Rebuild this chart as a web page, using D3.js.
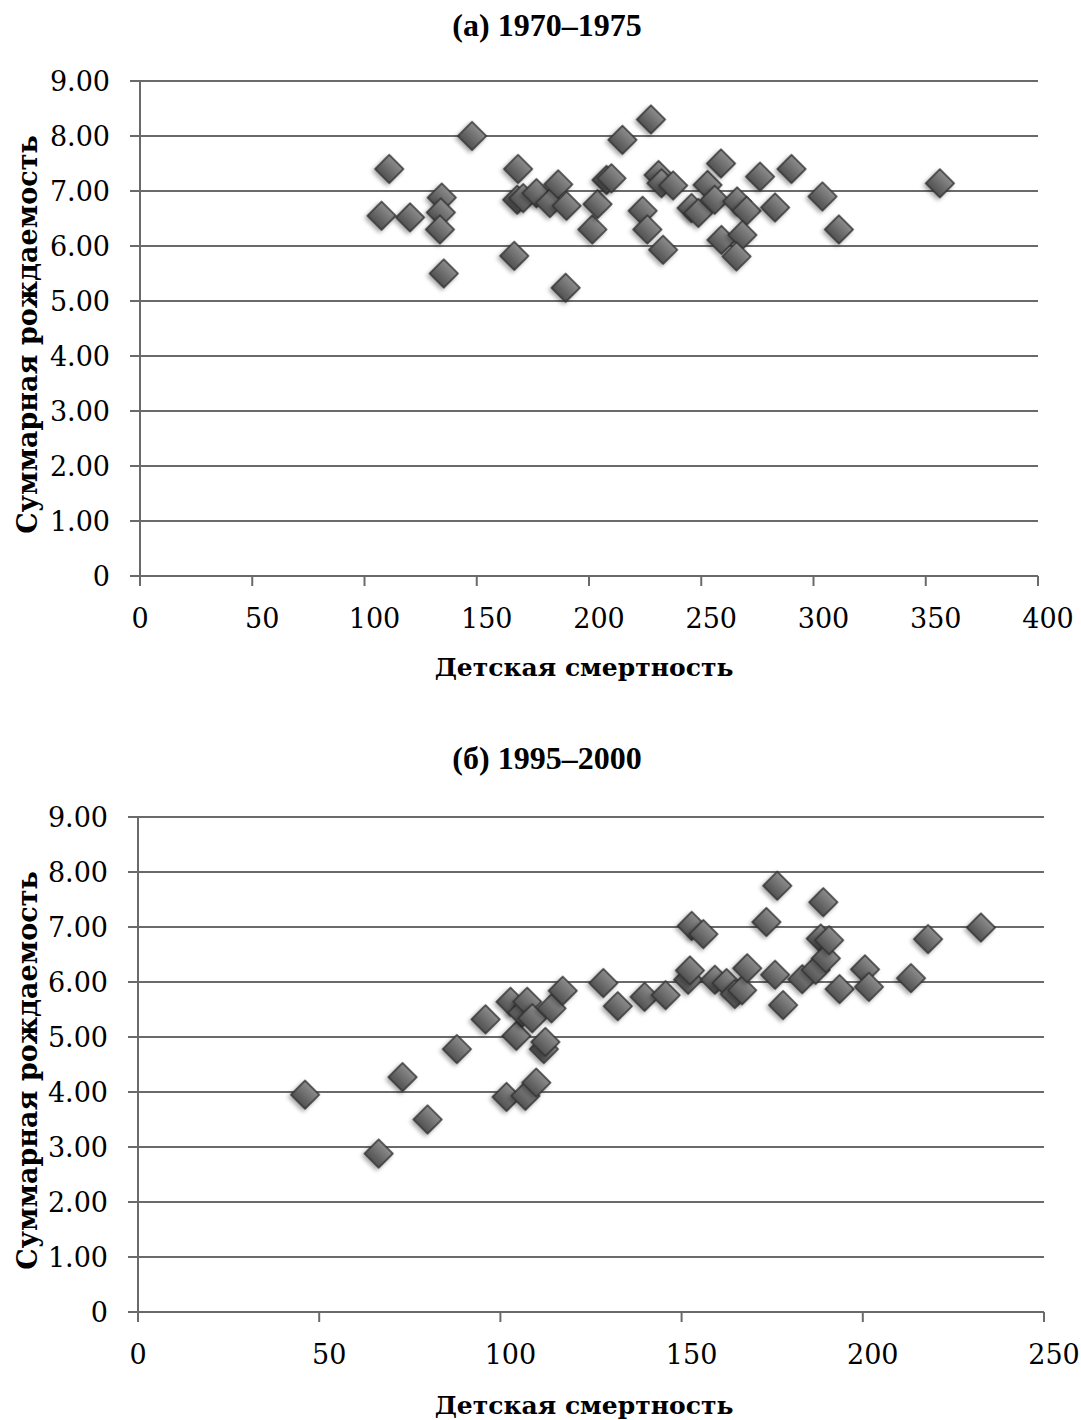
<!DOCTYPE html>
<html>
<head>
<meta charset="utf-8">
<script src="https://cdn.jsdelivr.net/npm/d3@7"></script>
<style>
  body { margin: 0; background: #fff; }
  svg { display: block; }
</style>
</head>
<body>
<svg id="chart" width="1081" height="1420"></svg>
<script>
// Panel (а) 1970–1975: infant mortality vs total fertility
const mortality1970 = [107.6, 111, 120.3, 134.4, 134, 133.6, 135.3, 147.9, 168.4, 166.7, 168, 170.7, 176.6, 182.6, 186.3, 190, 189.6, 201.5, 203.8, 207.8, 210, 214.9, 227.6, 223.9, 226, 231, 232.3, 233, 237.5, 245.7, 248.7, 252.8, 256, 258.8, 259, 266, 270.2, 268.3, 265.7, 276.2, 282.9, 290.2, 304, 311.3, 356.3];
const fertility1970 = [6.55, 7.40, 6.52, 6.88, 6.61, 6.30, 5.50, 8.00, 7.40, 5.82, 6.84, 6.87, 6.96, 6.78, 7.12, 6.73, 5.24, 6.30, 6.76, 7.20, 7.23, 7.93, 8.30, 6.64, 6.30, 7.29, 7.14, 5.93, 7.10, 6.69, 6.60, 7.11, 6.84, 7.50, 6.11, 6.81, 6.64, 6.20, 5.81, 7.26, 6.70, 7.40, 6.90, 6.30, 7.14];

// Panel (б) 1995–2000
const mortality1995 = [46.1, 66.4, 73.0, 79.9, 88.0, 95.9, 101.7, 102.8, 104.4, 106, 106.9, 107.4, 108.8, 109.9, 112, 112.4, 114.1, 117.2, 128.4, 132.4, 139.8, 145.6, 151.8, 152.3, 152.8, 156, 159.2, 162.4, 164.7, 166.7, 168.1, 173.4, 175.8, 176.4, 178, 183.3, 187, 188.4, 189.1, 189.8, 190.7, 193.6, 200.6, 201.7, 213.3, 218, 232.6];
const fertility1995 = [3.95, 2.88, 4.27, 3.50, 4.78, 5.32, 3.91, 5.64, 5.02, 5.44, 3.93, 5.64, 5.34, 4.17, 4.78, 4.91, 5.52, 5.84, 5.98, 5.56, 5.73, 5.76, 6.04, 6.21, 7.02, 6.87, 6.04, 5.98, 5.78, 5.85, 6.25, 7.09, 6.13, 7.75, 5.58, 6.05, 6.22, 6.79, 7.45, 6.43, 6.76, 5.87, 6.23, 5.91, 6.07, 6.78, 6.99];

const yTicks = [0, 1, 2, 3, 4, 5, 6, 7, 8, 9];
const xTicks1970 = [0, 50, 100, 150, 200, 250, 300, 350, 400];
const xTicks1995 = [0, 50, 100, 150, 200, 250];

const titles = ['(а) 1970–1975', '(б) 1995–2000'];
const xLabel = 'Детская смертность';
const yLabel = 'Суммарная рождаемость';

const svg = d3.select('#chart');
const defs = svg.append('defs');

const grad = defs.append('linearGradient')
  .attr('id', 'dia-fill')
  .attr('x1', '0%').attr('y1', '0%')
  .attr('x2', '0%').attr('y2', '100%');
grad.append('stop').attr('offset', '0%').attr('stop-color', '#8c8c8c');
grad.append('stop').attr('offset', '100%').attr('stop-color', '#515151');

const shadow = defs.append('filter')
  .attr('id', 'dia-shadow')
  .attr('x', '-50%').attr('y', '-50%')
  .attr('width', '200%').attr('height', '200%');
shadow.append('feDropShadow')
  .attr('dx', 0).attr('dy', 3)
  .attr('stdDeviation', 2)
  .attr('flood-color', '#000')
  .attr('flood-opacity', 0.35);

const gridColor = '#6a6a6a';
const tickFont = '"DejaVu Serif", serif';

function drawPanel(opts) {
  const { xs, ys, xTicks, xMax, left, right, top, bottom, title, titleY, xLabelY } = opts;

  const x = d3.scaleLinear().domain([0, xMax]).range([left, right]);
  const y = d3.scaleLinear().domain([0, 9]).range([bottom, top]);

  const g = svg.append('g');

  // title
  g.append('text')
    .attr('x', 547)
    .attr('y', titleY)
    .attr('text-anchor', 'middle')
    .attr('dominant-baseline', 'central')
    .style('font-family', '"Liberation Serif", "Times New Roman", serif')
    .style('font-weight', 'bold')
    .style('font-size', '32px')
    .text(title);

  // horizontal gridlines with left tick stubs
  g.append('g')
    .selectAll('line')
    .data(yTicks)
    .enter()
    .append('line')
    .attr('x1', left - 10)
    .attr('x2', right)
    .attr('y1', d => y(d))
    .attr('y2', d => y(d))
    .attr('stroke', gridColor)
    .attr('stroke-width', 2);

  // y axis line
  g.append('line')
    .attr('x1', left).attr('x2', left)
    .attr('y1', top).attr('y2', bottom + 10)
    .attr('stroke', gridColor)
    .attr('stroke-width', 2);

  // x ticks
  g.append('g')
    .selectAll('line')
    .data(xTicks)
    .enter()
    .append('line')
    .attr('x1', d => x(d)).attr('x2', d => x(d))
    .attr('y1', bottom).attr('y2', bottom + 10)
    .attr('stroke', gridColor)
    .attr('stroke-width', 2);

  // y tick labels
  g.append('g')
    .selectAll('text')
    .data(yTicks)
    .enter()
    .append('text')
    .attr('x', left - 30)
    .attr('y', d => y(d))
    .attr('text-anchor', 'end')
    .attr('dominant-baseline', 'central')
    .style('font-family', tickFont)
    .style('font-size', '27px')
    .style('fill', '#000')
    .text(d => d === 0 ? '0' : d3.format('.2f')(d));

  // x tick labels (non-zero labels sit slightly right of their tick)
  g.append('g')
    .selectAll('text')
    .data(xTicks)
    .enter()
    .append('text')
    .attr('x', d => x(d) + (d === 0 ? 0 : 10))
    .attr('y', bottom + 42)
    .attr('text-anchor', 'middle')
    .attr('dominant-baseline', 'central')
    .style('font-family', tickFont)
    .style('font-size', '27px')
    .style('fill', '#000')
    .text(d => d);

  // axis titles
  g.append('text')
    .attr('x', 584)
    .attr('y', xLabelY)
    .attr('text-anchor', 'middle')
    .attr('dominant-baseline', 'central')
    .style('font-family', tickFont)
    .style('font-weight', 'bold')
    .style('font-size', '25px')
    .text(xLabel);

  g.append('text')
    .attr('transform', `translate(27, ${(top + bottom) / 2 + 6}) rotate(-90)`)
    .attr('text-anchor', 'middle')
    .attr('dominant-baseline', 'central')
    .style('font-family', tickFont)
    .style('font-weight', 'bold')
    .style('font-size', '27px')
    .text(yLabel);

  // diamond markers
  const pts = xs.map((v, i) => ({ x: v, y: ys[i] }));
  const sym = d3.symbol().type(d3.symbolSquare).size(400);
  g.append('g')
    .selectAll('path')
    .data(pts)
    .enter()
    .append('path')
    .attr('d', sym)
    .attr('transform', d => `translate(${x(d.x)}, ${y(d.y)}) rotate(45)`)
    .attr('fill', 'url(#dia-fill)')
    .attr('stroke', '#333')
    .attr('stroke-width', 1.5)
    .attr('filter', 'url(#dia-shadow)');
}

drawPanel({
  xs: mortality1970, ys: fertility1970, xTicks: xTicks1970, xMax: 400,
  left: 140, right: 1038, top: 81, bottom: 576,
  title: titles[0], titleY: 25, xLabelY: 667
});

drawPanel({
  xs: mortality1995, ys: fertility1995, xTicks: xTicks1995, xMax: 250,
  left: 138, right: 1044, top: 817, bottom: 1312,
  title: titles[1], titleY: 758, xLabelY: 1405
});
</script>
</body>
</html>
